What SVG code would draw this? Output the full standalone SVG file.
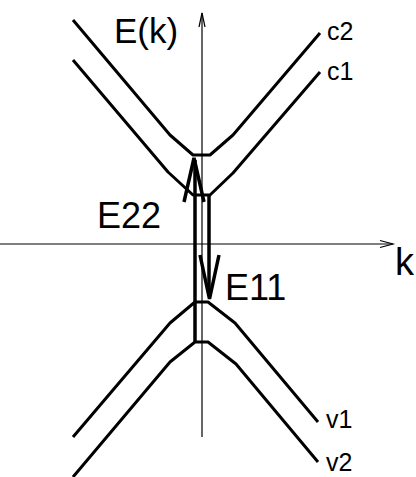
<svg xmlns="http://www.w3.org/2000/svg" width="416" height="477" viewBox="0 0 416 477">
<style>
.band{fill:none;stroke:#000;stroke-width:3;stroke-linejoin:round;stroke-linecap:butt}
.axis{fill:none;stroke:#000;stroke-width:1.2}
.arr{fill:none;stroke:#000;stroke-width:3.5;stroke-linejoin:miter}
.lbl{font-family:"Liberation Sans",Arial,sans-serif;fill:#000}
</style>
<rect width="416" height="477" fill="#fff"/>
<g id="axes">
<path class="axis" d="M202,13 V437"/>
<path class="axis" d="M199,27 L202,13 L205,27"/>
<path class="axis" d="M0,244 H393"/>
<path class="axis" d="M380,240.5 L393,244 L380,247.5"/>
</g>
<g id="c2"><path class="band" d="M73,20 L170,135 L193,155 L210,155 L233,135 L320,33"/></g>
<g id="c1"><path class="band" d="M73,60 L168,172 L193,195 L210,195 L233,173 L320,72"/></g>
<g id="v1"><path class="band" d="M73,437 L170,323 L195,302 L208,302 L235,323 L318,422"/></g>
<g id="v2"><path class="band" d="M73,477 L170,362 L195,342 L208,342 L236,364 L318,462"/></g>
<g id="connectors">
<path class="arr" d="M195,342 V160"/>
<path class="arr" d="M184,202 L194,158 L204,202"/>
<path class="arr" d="M209,195 V296"/>
<path class="arr" d="M200,255 L209.5,299 L219,255"/>
</g>
<g id="labels">
<text class="lbl" x="114" y="43" font-size="35">E(k)</text>
<text class="lbl" x="97" y="228" font-size="36">E22</text>
<text class="lbl" x="225" y="300" font-size="36">E11</text>
<text class="lbl" x="395" y="275" font-size="38">k</text>
<text class="lbl" x="327" y="40" font-size="25">c2</text>
<text class="lbl" x="327" y="80" font-size="25">c1</text>
<text class="lbl" x="326" y="428" font-size="25">v1</text>
<text class="lbl" x="326" y="471" font-size="25">v2</text>
</g>
</svg>
